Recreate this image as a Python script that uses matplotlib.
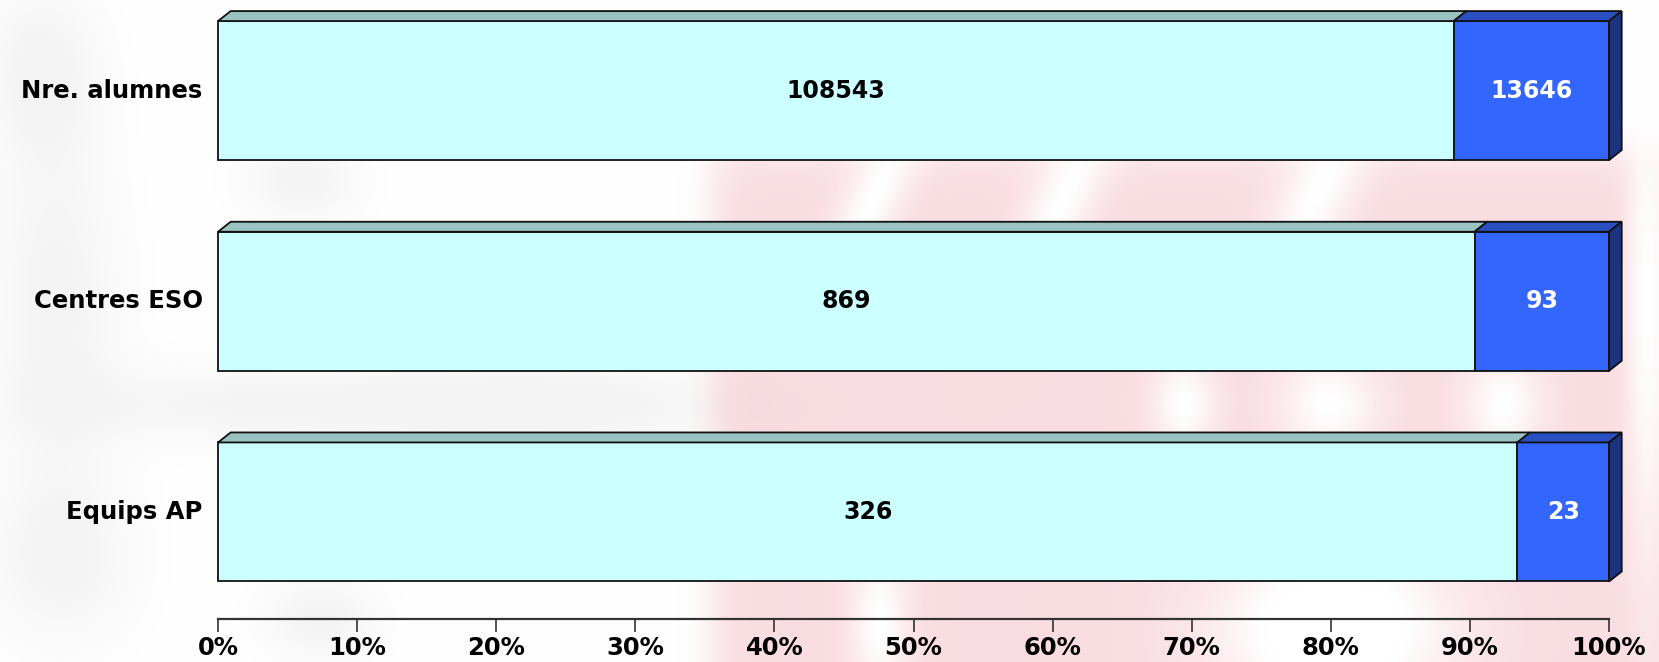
import numpy as np
import matplotlib
matplotlib.use("Agg")
import matplotlib.pyplot as plt
from matplotlib.patches import Polygon
from matplotlib.ticker import FuncFormatter

categories = ["Equips AP", "Centres ESO", "Nre. alumnes"]
first_vals = [326, 869, 108543]
second_vals = [23, 93, 13646]
pct_ticks = [0, 10, 20, 30, 40, 50, 60, 70, 80, 90, 100]

FRONT = ["#ccffff", "#3366ff"]
TOP = ["#99c2c0", "#2a4fc0"]
SIDE = "#1c3380"
EDGE = "#111111"

W, H, DPI = 1659, 662, 100
fig = plt.figure(figsize=(W / DPI, H / DPI), dpi=DPI)

# faded logo behind the plot: a pink field on the right, grey letters on the left
bg = fig.add_axes([0, 0, 1, 1], zorder=-1)
gx, gy = np.meshgrid(np.linspace(0, W, 415), np.linspace(0, H, 166))


def blob(cx, cy, sx, sy, ang=0.0):
    t = np.deg2rad(ang)
    u = (gx - cx) * np.cos(t) + (gy - cy) * np.sin(t)
    v = -(gx - cx) * np.sin(t) + (gy - cy) * np.cos(t)
    return np.exp(-0.5 * ((u / sx) ** 2 + (v / sy) ** 2))


def step(z, edge, soft):
    return 1 / (1 + np.exp(-(z - edge) / soft))


pink = step(gx, 712, 10) * step(gy, 150, 12)
holes = (blob(875, 195, 20, 70, 25) + blob(1065, 195, 22, 70, 25) + blob(1320, 190, 25, 70, 25)
         + blob(1185, 405, 22, 35) + blob(1330, 405, 35, 35) + blob(1505, 405, 28, 35)
         + blob(880, 625, 20, 60) + 1.5 * blob(1335, 630, 80, 60) + blob(1650, 300, 15, 200))
pink = pink * (1 - np.clip(holes, 0, 1)) * 0.92
grey = (blob(55, 300, 45, 120) + blob(300, 405, 180, 28) + blob(560, 405, 110, 28)
        + blob(40, 70, 40, 60) + blob(300, 180, 40, 30) + blob(60, 560, 50, 60)
        + blob(320, 620, 40, 30))
grey = np.clip(grey, 0, 1) * 0.6
img = np.ones(gx.shape + (3,))
for c, (pr, gr) in enumerate(zip([249, 218, 223], [236, 236, 236])):
    img[..., c] = 1 - pink * (1 - pr / 255) - grey * (1 - gr / 255)
bg.imshow(np.clip(img, 0, 1), extent=[0, W, H, 0], interpolation="bicubic", aspect="auto")
bg.set_axis_off()

ax = fig.add_axes([218 / W, 43 / H, 1391 / W, 619 / H])

bar_h = 0.66
ax.set_xlim(0, 1)
ax.set_ylim(-0.508, 2.43)

# depth of the 3D faces, in data units (about 12.7 px right, 10 px up)
dx = 12.7 / 1391
dy = 10.0 / (619 / (2.43 + 0.508))

for i, (cat, a, b) in enumerate(zip(categories, first_vals, second_vals)):
    total = a + b
    shares = [a / total, b / total]
    labels = [a, b]
    y0, y1 = i - bar_h / 2, i + bar_h / 2
    left = 0.0
    for k, share in enumerate(shares):
        right = left + share
        front = Polygon([(left, y0), (right, y0), (right, y1), (left, y1)],
                        closed=True, facecolor=FRONT[k], edgecolor=EDGE, lw=1.3, zorder=3)
        top = Polygon([(left, y1), (right, y1), (right + dx, y1 + dy), (left + dx, y1 + dy)],
                      closed=True, facecolor=TOP[k], edgecolor=EDGE, lw=1.3, zorder=3)
        ax.add_patch(front)
        ax.add_patch(top)
        ax.text((left + right) / 2, i, str(labels[k]), ha="center", va="center",
                fontsize=17, fontweight="bold", color="black" if k == 0 else "white", zorder=4)
        left = right
    side = Polygon([(1, y0), (1 + dx, y0 + dy), (1 + dx, y1 + dy), (1, y1)],
                   closed=True, facecolor=SIDE, edgecolor=EDGE, lw=1.3, zorder=3)
    ax.add_patch(side)
    ax.text(-0.011, i, cat, ha="right", va="center", fontsize=17.5, fontweight="bold")

for p in ax.patches:
    p.set_clip_on(False)

ax.set_yticks([])
ax.set_xticks([t / 100 for t in pct_ticks])
ax.xaxis.set_major_formatter(FuncFormatter(lambda v, _: f"{v * 100:.0f}%"))
ax.tick_params(axis="x", direction="out", length=9, width=1.2, color="#333333",
               labelsize=17.5, pad=3)
for lbl in ax.get_xticklabels():
    lbl.set_fontweight("bold")
for s in ["top", "right", "left"]:
    ax.spines[s].set_visible(False)
ax.spines["bottom"].set_color("#333333")
ax.spines["bottom"].set_linewidth(1.6)
ax.patch.set_alpha(0)

fig.savefig("out.png", dpi=DPI)
